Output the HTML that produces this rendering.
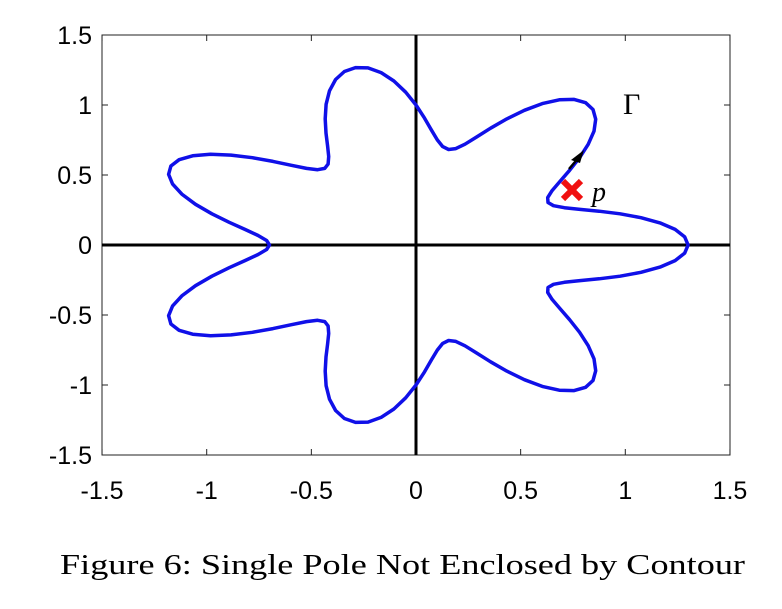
<!DOCTYPE html>
<html><head><meta charset="utf-8"><style>
body{margin:0;background:#fff;width:782px;height:604px;overflow:hidden}
svg text{font-family:"Liberation Sans",sans-serif;font-size:25px;fill:#000}
</style></head><body>
<svg width="782" height="604" viewBox="0 0 782 604">
<rect x="102" y="35" width="628" height="420" fill="none" stroke="#222" stroke-width="1"/>
<g id="ticks" stroke="#222" stroke-width="1"></g>
<line x1="416" y1="35" x2="416" y2="455" stroke="#000" stroke-width="3"/>
<line x1="102" y1="245" x2="730" y2="245" stroke="#000" stroke-width="3"/>
<path id="curve" fill="none" stroke="#1010e8" stroke-width="3.5" stroke-linejoin="round"/>
<line x1="569" y1="169" x2="580" y2="156" stroke="#000" stroke-width="2.5"/>
<polygon points="584,150 571,160 580,163" fill="#000"/>
<g stroke="#f01010" stroke-width="6" stroke-linecap="butt">
<line x1="563" y1="181" x2="581" y2="199"/><line x1="581" y1="181" x2="563" y2="199"/></g>
<text x="592" y="201" style="font-family:'Liberation Serif',serif;font-style:italic;font-size:28px">p</text>
<text x="623" y="114" style="font-family:'Liberation Serif',serif;font-size:30px">Γ</text>
<g id="labels"></g>
<text x="60" y="574" textLength="685" lengthAdjust="spacingAndGlyphs" style="font-family:'Liberation Serif',serif;font-size:29px">Figure 6: Single Pole Not Enclosed by Contour</text>
</svg>
<script>
var X=v=>416+v*209.3, Y=v=>245-v*140;
var d="";for(var i=0;i<=140;i++){var t=i/140*2*Math.PI,r=1+0.3*Math.cos(7*t);d+=(i?"L":"M")+X(r*Math.cos(t)).toFixed(1)+","+Y(r*Math.sin(t)).toFixed(1);}
document.getElementById("curve").setAttribute("d",d+"Z");
var tk="",lb="",vals=[-1.5,-1,-0.5,0,0.5,1,1.5];
vals.forEach(v=>{var x=X(v),y=Y(v);
tk+=`<line x1="${x}" y1="455" x2="${x}" y2="449"/><line x1="${x}" y1="35" x2="${x}" y2="41"/><line x1="102" y1="${y}" x2="108" y2="${y}"/><line x1="730" y1="${y}" x2="724" y2="${y}"/>`;
lb+=`<text x="${x}" y="499" text-anchor="middle">${v}</text><text x="92" y="${y+9}" text-anchor="end">${v}</text>`;});
document.getElementById("ticks").innerHTML=tk;document.getElementById("labels").innerHTML=lb;
</script>
</body></html>
